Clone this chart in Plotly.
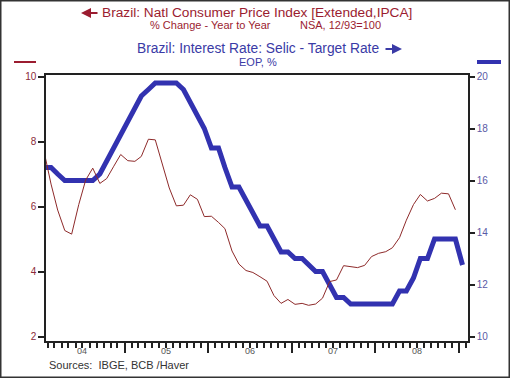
import pandas as pd
import plotly.graph_objects as go

# ---- data ----
months = pd.date_range("2004-01-01", periods=61, freq="MS") + pd.Timedelta(days=14)

cpi_yoy = [
    7.71, 6.69, 5.89, 5.26, 5.15, 6.06, 6.81, 7.18, 6.71, 6.86, 7.24, 7.60,
    7.41, 7.39, 7.54, 8.07, 8.05, 7.27, 6.57, 6.02, 6.04, 6.36, 6.22, 5.69,
    5.70, 5.51, 5.32, 4.63, 4.23, 4.03, 3.97, 3.84, 3.70, 3.26, 3.02, 3.14,
    2.99, 3.02, 2.96, 3.00, 3.18, 3.69, 3.74, 4.18, 4.15, 4.12, 4.19, 4.46,
    4.56, 4.61, 4.73, 5.04, 5.58, 6.06, 6.37, 6.17, 6.25, 6.41, 6.39, 5.90,
]
selic = [
    16.5, 16.5, 16.25, 16.0, 16.0, 16.0, 16.0, 16.0, 16.25, 16.75, 17.25, 17.75,
    18.25, 18.75, 19.25, 19.5, 19.75, 19.75, 19.75, 19.75, 19.5, 19.0, 18.5, 18.0,
    17.25, 17.25, 16.5, 15.75, 15.75, 15.25, 14.75, 14.25, 14.25, 13.75, 13.25, 13.25,
    13.0, 13.0, 12.75, 12.5, 12.5, 12.0, 11.5, 11.5, 11.25, 11.25, 11.25, 11.25,
    11.25, 11.25, 11.25, 11.75, 11.75, 12.25, 13.0, 13.0, 13.75, 13.75, 13.75, 13.75,
    12.75,
]
year_labels = ["04", "05", "06", "07", "08"]
year_mids = ["2004-07-01", "2005-07-01", "2006-07-01", "2007-07-01", "2008-07-01"]
left_ticks = [2, 4, 6, 8, 10]
right_ticks = [10, 12, 14, 16, 18, 20]

RED = "#9b1c30"
RED_LINE = "#8e2a2a"
BLUE = "#3a3aa6"
BLUE_LINE = "#3232b0"
AX = "#222222"
FONT = "Liberation Sans, Arial, sans-serif"

W, H = 510, 378
L, R, T, B = 46, 42, 75, 37
PW, PH = W - L - R, H - T - B


def px(x):
    return (x - L) / PW


def py(y):
    return (H - B - y) / PH


fig = go.Figure()
fig.add_trace(go.Scatter(x=months, y=selic, mode="lines", yaxis="y",
                         line=dict(color=BLUE_LINE, width=5), hoverinfo="skip"))
fig.add_trace(go.Scatter(x=months[:60], y=cpi_yoy, mode="lines", yaxis="y2",
                         line=dict(color=RED_LINE, width=1), hoverinfo="skip"))

fig.update_layout(
    width=W, height=H, margin=dict(l=L, r=R, t=T, b=B),
    paper_bgcolor="white", plot_bgcolor="white", showlegend=False,
    font=dict(family=FONT, size=10, color="#333"),
    xaxis=dict(
        type="date", range=["2004-01-24", "2009-02-08"],
        showgrid=False, zeroline=False, showline=True, linecolor=AX, linewidth=1.5,
        mirror=True, tickmode="linear", tick0="2005-01-01", dtick="M12",
        ticks="outside", ticklen=10, tickwidth=2, tickcolor=AX, showticklabels=False,
        minor=dict(ticks="outside", ticklen=5, tickwidth=1.5, tickcolor=AX,
                   dtick="M1", tick0="2004-01-01", showgrid=False),
    ),
    yaxis=dict(
        side="right", range=[9.827, 20.058], tickvals=right_ticks,
        showgrid=False, zeroline=False, showline=True, linecolor=AX, linewidth=1.5,
        ticks="outside", ticklen=5, tickwidth=2, tickcolor=AX,
        tickfont=dict(color="#5a5aa6", size=10, family=FONT),
    ),
    yaxis2=dict(
        side="left", overlaying="y", range=[1.862, 10.046], tickvals=left_ticks,
        showgrid=False, zeroline=False, showline=True, linecolor=AX, linewidth=1.5,
        ticks="outside", ticklen=6, tickwidth=2, tickcolor=AX,
        tickfont=dict(color="#8a2a3a", size=10, family=FONT),
    ),
)

ann = []
for lab, xm in zip(year_labels, year_mids):
    ann.append(dict(x=xm, xref="x", y=0, yref="paper", yanchor="middle", yshift=-10.3,
                    text=lab, showarrow=False, font=dict(size=9, color="#555", family=FONT)))

texts = [
    dict(x=px(257), y=py(12.5), text="Brazil: Natl Consumer Price Index [Extended,IPCA]",
         font=dict(size=13.7, color=RED, family=FONT)),
    dict(x=px(210), y=py(25.5), text="% Change - Year to Year",
         font=dict(size=11, color=RED, family=FONT)),
    dict(x=px(340.5), y=py(25.5), text="NSA, 12/93=100",
         font=dict(size=11, color=RED, family=FONT)),
    dict(x=px(257.5), y=py(49), text="Brazil: Interest Rate: Selic - Target Rate",
         font=dict(size=13.8, color=BLUE, family=FONT)),
    dict(x=px(258), y=py(61.5), text="EOP, %",
         font=dict(size=11, color=BLUE, family=FONT)),
    dict(x=px(48), y=py(365.3), xanchor="left", text="Sources:\u00a0\u00a0IBGE, BCB /Haver",
         font=dict(size=11, color="#333", family=FONT)),
]
for a in texts:
    a.update(xref="paper", yref="paper", showarrow=False, yanchor="middle", borderpad=0)
    a.setdefault("xanchor", "center")
ann += texts

# title arrows
ann += [
    dict(x=px(81), y=py(13), xref="paper", yref="paper", text="", showarrow=True,
         ax=18, ay=0, arrowhead=2, arrowsize=1, arrowwidth=2, arrowcolor=RED),
    dict(x=px(402), y=py(49), xref="paper", yref="paper", text="", showarrow=True,
         ax=-18, ay=0, arrowhead=2, arrowsize=1, arrowwidth=2, arrowcolor=BLUE),
]
fig.update_layout(annotations=ann)

fig.update_layout(shapes=[
    dict(type="line", xref="paper", yref="paper", x0=px(14), x1=px(36), y0=py(62), y1=py(62),
         line=dict(color=RED, width=2)),
    dict(type="line", xref="paper", yref="paper", x0=px(477), x1=px(501), y0=py(62), y1=py(62),
         line=dict(color=BLUE_LINE, width=4)),
    dict(type="rect", xref="paper", yref="paper", x0=px(0.75), x1=px(509.25),
         y0=py(377.25), y1=py(0.75), line=dict(color="#333", width=1.5)),
])

fig.write_html("out.html", config={"displayModeBar": False},
               post_script="document.body.style.margin='0px';")
